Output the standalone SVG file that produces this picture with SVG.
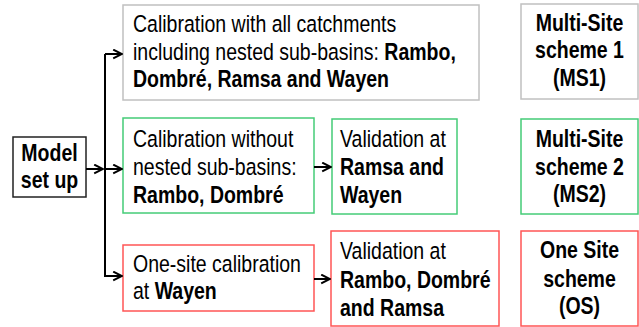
<svg xmlns="http://www.w3.org/2000/svg" width="639" height="327" viewBox="0 0 639 327">
<style>
text{font-family:"Liberation Sans",Arial,sans-serif;font-size:23.5px;fill:#000}
.b{font-weight:bold}
.c{text-anchor:middle}
rect{fill:#fff;stroke-width:1.5}
.gray{stroke:#c0c0c0}
.green{stroke:#44cc77}
.red{stroke:#ff5555}
.blk{stroke:#222}
.conn path{fill:none;stroke:#000;stroke-width:2;marker-end:url(#ah)}
</style>
<defs>
<marker id="ah" viewBox="0 0 10 10" refX="9" refY="5" markerWidth="5.5" markerHeight="5.5" orient="auto" markerUnits="strokeWidth">
<path d="M1,1 L9,5 L1,9" fill="none" stroke="#000" stroke-width="1.8"/>
</marker>
</defs>
<rect width="639" height="327" fill="#fff" stroke="none"/>
<g id="model">
<rect class="blk" x="13" y="137" width="73" height="60"/>
<text class="b c" transform="translate(49.5,161) scale(0.83,1)">Model</text>
<text class="b c" transform="translate(49.5,188) scale(0.83,1)">set up</text>
</g>
<g id="cal-all">
<rect class="gray" x="123" y="5" width="356" height="95"/>
<text transform="translate(133,32) scale(0.83,1)">Calibration with all catchments</text>
<text transform="translate(133,60) scale(0.83,1)">including nested sub-basins: <tspan class="b">Rambo,</tspan></text>
<text class="b" transform="translate(133,87) scale(0.83,1)">Dombré, Ramsa and Wayen</text>
</g>
<g id="ms1">
<rect class="gray" x="521" y="4" width="117" height="95"/>
<text class="b c" transform="translate(579.5,31) scale(0.83,1)">Multi-Site</text>
<text class="b c" transform="translate(579.5,58) scale(0.83,1)">scheme 1</text>
<text class="b c" transform="translate(579.5,86) scale(0.83,1)">(MS1)</text>
</g>
<g id="cal-without">
<rect class="green" x="123" y="118" width="191" height="95"/>
<text transform="translate(133,147) scale(0.83,1)">Calibration without</text>
<text transform="translate(133,175) scale(0.83,1)">nested sub-basins:</text>
<text class="b" transform="translate(133,203) scale(0.83,1)">Rambo, Dombré</text>
</g>
<g id="val-green">
<rect class="green" x="332" y="119" width="125" height="95"/>
<text transform="translate(340,147) scale(0.83,1)">Validation at</text>
<text class="b" transform="translate(340,175) scale(0.83,1)">Ramsa and</text>
<text class="b" transform="translate(340,203) scale(0.83,1)">Wayen</text>
</g>
<g id="ms2">
<rect class="green" x="521" y="119" width="117" height="95"/>
<text class="b c" transform="translate(579.5,147) scale(0.83,1)">Multi-Site</text>
<text class="b c" transform="translate(579.5,175) scale(0.83,1)">scheme 2</text>
<text class="b c" transform="translate(579.5,202) scale(0.83,1)">(MS2)</text>
</g>
<g id="cal-one">
<rect class="red" x="123" y="245" width="191" height="66"/>
<text transform="translate(133,272) scale(0.83,1)">One-site calibration</text>
<text transform="translate(133,299) scale(0.83,1)">at <tspan class="b">Wayen</tspan></text>
</g>
<g id="val-red">
<rect class="red" x="331" y="231" width="168" height="95"/>
<text transform="translate(340,259) scale(0.83,1)">Validation at</text>
<text class="b" transform="translate(340,288) scale(0.83,1)">Rambo, Dombré</text>
<text class="b" transform="translate(340,316) scale(0.83,1)">and Ramsa</text>
</g>
<g id="os">
<rect class="red" x="521" y="231" width="117" height="95"/>
<text class="b c" transform="translate(579.5,258) scale(0.83,1)">One Site</text>
<text class="b c" transform="translate(579.5,287) scale(0.83,1)">scheme</text>
<text class="b c" transform="translate(579.5,314) scale(0.83,1)">(OS)</text>
</g>
<g class="conn" id="connectors">
<path d="M86,169 H103"/>
<path d="M105,169 H122"/>
<path d="M105,54 V276 H122"/>
<path d="M105,54 H122"/>
<path d="M314,167 H331"/>
<path d="M314,279 H330"/>
</g>
</svg>
